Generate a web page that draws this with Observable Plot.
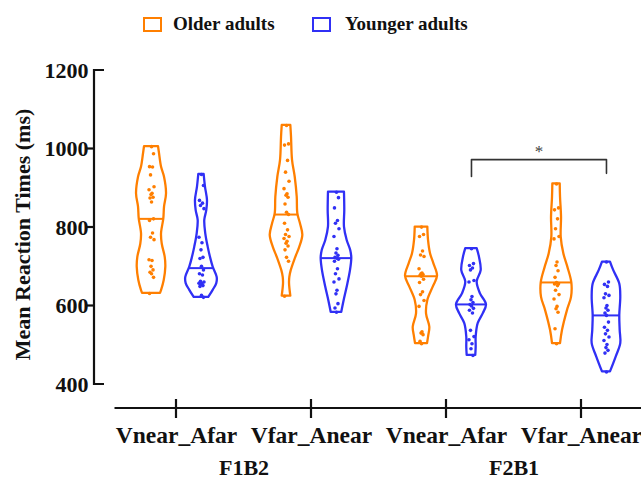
<!DOCTYPE html>
<html>
<head>
<meta charset="utf-8">
<script src="https://cdn.jsdelivr.net/npm/d3@7"></script>
<script src="https://cdn.jsdelivr.net/npm/@observablehq/plot@0.6"></script>
<style>
  body { margin: 0; background: #fff; }
  #wrap { position: relative; width: 641px; height: 480px; font-family: "Liberation Serif", "Times New Roman", serif; }
  #legend { position: relative; height: 45px; }
  .box { position: absolute; top: 17px; width: 19px; height: 15px; box-sizing: border-box; border: 2.5px solid; }
  .lab { position: absolute; top: 14px; font-weight: bold; font-size: 19px; line-height: 1; color: #111; white-space: nowrap; }
  svg { display: block; }
</style>
</head>
<body>
<div id="wrap">
  <div id="legend"></div>
  <div id="chart"></div>
</div>
<script>
// ---------- data ----------
const conditions = ["Vnear_Afar", "Vfar_Anear", "Vnear_Afar", "Vfar_Anear"];
const blocks = ["F1B2", "F2B1"];
const blockCenters = [0.5, 2.5];
const groups = ["Older adults", "Younger adults"];
const groupColors = ["#ff7f00", "#3030f5"];
const yTicks = [400, 600, 800, 1000, 1200];

// individual mean RTs (ms)
const older_F1B2_VnearAfar = [1006, 988, 955, 954, 934, 904, 896, 887, 884, 877, 875, 865, 822, 818, 786, 775, 769, 718, 716, 701, 692, 686, 682, 673, 632];
const younger_F1B2_VnearAfar = [935, 907, 869, 862, 856, 848, 775, 761, 743, 724, 721, 701, 692, 682, 679, 663, 661, 658, 657, 655, 652, 650, 627, 622];
const older_F1B2_VfarAnear = [1060, 1013, 1010, 971, 941, 918, 899, 886, 882, 877, 860, 839, 833, 811, 794, 782, 777, 772, 765, 760, 753, 743, 724, 714, 625];
const younger_F1B2_VfarAnear = [890, 876, 850, 818, 811, 797, 777, 746, 735, 729, 724, 722, 719, 714, 695, 682, 669, 661, 640, 631, 606, 595, 584];
const older_F2B1_VnearAfar = [801, 782, 777, 740, 730, 726, 695, 684, 682, 680, 678, 676, 668, 660, 636, 629, 614, 599, 534, 531, 527, 510, 504];
const younger_F2B1_VnearAfar = [746, 708, 703, 697, 692, 665, 661, 624, 616, 609, 604, 600, 594, 589, 582, 538, 522, 514, 504, 491, 474];
const older_F2B1_VfarAnear = [911, 850, 845, 822, 797, 777, 771, 712, 703, 690, 673, 660, 657, 656, 652, 640, 629, 618, 599, 593, 584, 542, 504];
const younger_F2B1_VfarAnear = [712, 661, 655, 650, 631, 627, 621, 601, 595, 589, 582, 576, 559, 546, 538, 529, 521, 512, 502, 494, 487, 480, 432];

// violin outlines: [value (ms), relative density (half-width)]
const older_F1B2_VnearAfar_shape = [[1006,7],[988,8],[954,10],[928,13],[886,15],[852,13],[822,12.3],[784,10],[758,10.7],[724,13.7],[699,14.3],[665,12.7],[639,10],[632,9]];
const younger_F1B2_VnearAfar_shape = [[935,2.7],[903,4],[869,6],[843,5.3],[818,3.3],[784,4.3],[750,6.7],[724,9],[699,11.7],[673,15.7],[657,15.3],[640,11.7],[622,7.3]];
const older_F1B2_VfarAnear_shape = [[1060,4.3],[1030,5],[971,6],[928,8.7],[877,10.7],[835,11.3],[809,14],[780,16.3],[750,13.3],[720,8.7],[690,4.7],[673,3.3],[657,3],[625,4.3]];
const younger_F1B2_VfarAnear_shape = [[890,8],[843,8.3],[801,8],[767,10.7],[741,14.3],[722,15.3],[690,14],[648,10.7],[614,7.7],[584,5.3]];
const older_F2B1_VnearAfar_shape = [[801,6.3],[767,7],[733,9],[708,12.3],[676,16],[648,11.7],[614,6.3],[580,5],[546,8.3],[525,7.3],[504,6]];
const younger_F2B1_VnearAfar_shape = [[746,5.7],[724,8],[690,9.7],[661,5.7],[631,9],[603,15],[580,11.7],[555,6.7],[521,4.7],[495,4.7],[474,4.3]];
const older_F2B1_VfarAnear_shape = [[911,3.7],[877,4],[826,5],[775,4.7],[733,7.3],[699,11.3],[659,15.3],[622,15],[589,11],[538,6],[504,4]];
const younger_F2B1_VfarAnear_shape = [[712,4],[690,7.3],[656,13.3],[622,14.3],[576,13.3],[538,13.7],[504,14.3],[470,9.7],[432,4]];

// significance comparison (Younger adults, F2B1: Vnear_Afar vs Vfar_Anear)
const sigFrom = [2, 1];   // [condition, group]
const sigTo = [3, 1];
const sigLevels = [930, 973, 973, 938];
const sigLabel = "*";
const sigLabelY = 993;

// ---------- layout helpers ----------
const groupOffset = [-0.185, 0.185];
const widthScale = 1 / 135;
const jitterPx = [0, 2, -2, 1, -1, 2.5, -2.5, 0.5, -0.5, 1.5, -1.5];

const violins = [
  [0, 0, older_F1B2_VnearAfar, older_F1B2_VnearAfar_shape],
  [0, 1, younger_F1B2_VnearAfar, younger_F1B2_VnearAfar_shape],
  [1, 0, older_F1B2_VfarAnear, older_F1B2_VfarAnear_shape],
  [1, 1, younger_F1B2_VfarAnear, younger_F1B2_VfarAnear_shape],
  [2, 0, older_F2B1_VnearAfar, older_F2B1_VnearAfar_shape],
  [2, 1, younger_F2B1_VnearAfar, younger_F2B1_VnearAfar_shape],
  [3, 0, older_F2B1_VfarAnear, older_F2B1_VfarAnear_shape],
  [3, 1, younger_F2B1_VfarAnear, younger_F2B1_VfarAnear_shape]
].map(([c, g, pts, shape]) => ({c, g, pts, shape, cx: c + groupOffset[g], color: groupColors[g]}));

function widthAt(shape, v) {
  for (let i = 0; i < shape.length - 1; i++) {
    const [v0, w0] = shape[i], [v1, w1] = shape[i + 1];
    if ((v <= v0 && v >= v1)) return w0 + (w1 - w0) * (v - v0) / (v1 - v0);
  }
  return shape[shape.length - 1][1];
}

// ---------- legend ----------
const legend = document.getElementById("legend");
const legendPos = [[143, 173], [312, 345]];
groups.forEach((name, i) => {
  const b = document.createElement("div");
  b.className = "box"; b.style.left = legendPos[i][0] + "px"; b.style.borderColor = groupColors[i];
  const t = document.createElement("div");
  t.className = "lab"; t.style.left = legendPos[i][1] + "px"; t.textContent = name;
  legend.append(b, t);
});

// ---------- axes (drawn with the chart's scales) ----------
function axes(index, scales, values, dims) {
  const {x, y} = scales;
  const {width, height, marginLeft, marginBottom} = dims;
  const g = d3.create("svg:g").attr("fill", "none").attr("stroke", "#111").attr("stroke-width", 2.2);
  const x0 = marginLeft;
  g.append("path").attr("d", `M${x0 + 10},${y(yTicks[yTicks.length - 1])}H${x0}V${y(yTicks[0])}H${x0 + 10}`);
  yTicks.slice(1, -1).forEach(t => g.append("line").attr("x1", x0 - 7).attr("x2", x0).attr("y1", y(t)).attr("y2", y(t)));
  const yb = height - marginBottom;
  g.append("line").attr("x1", x(-0.5) + 6).attr("x2", width).attr("y1", yb).attr("y2", yb);
  conditions.forEach((_, i) => g.append("line").attr("x1", x(i)).attr("x2", x(i)).attr("y1", yb - 9).attr("y2", yb + 10));
  return g.node();
}

const font = '"Liberation Serif", "Times New Roman", serif';
const marks = [axes];

violins.forEach(v => {
  const rows = v.shape.map(([val, w]) => ({val, w}));
  marks.push(Plot.areaX(rows, {
    y: "val", x1: d => v.cx - d.w * widthScale, x2: d => v.cx + d.w * widthScale,
    fill: "none", stroke: v.color, strokeWidth: 2.3, curve: "catmull-rom", strokeLinejoin: "round"
  }));
  const med = d3.median(v.pts);
  const mw = widthAt(v.shape, med) * widthScale;
  marks.push(Plot.ruleY([med], {y: d => d, x1: v.cx - mw, x2: v.cx + mw, stroke: v.color, strokeWidth: 2}));
  marks.push(Plot.dot(v.pts, {
    x: (d, i) => v.cx + jitterPx[i % jitterPx.length] * widthScale, y: d => d,
    r: 1.8, fill: v.color, stroke: "none"
  }));
});

// significance bracket
const sx1 = sigFrom[0] + groupOffset[sigFrom[1]], sx2 = sigTo[0] + groupOffset[sigTo[1]];
const bracket = [{x: sx1, y: sigLevels[0]}, {x: sx1, y: sigLevels[1]}, {x: sx2, y: sigLevels[2]}, {x: sx2, y: sigLevels[3]}];
marks.push(Plot.line(bracket, {x: "x", y: "y", stroke: "#333", strokeWidth: 1.6}));
marks.push(Plot.text([sigLabel], {x: (sx1 + sx2) / 2, y: sigLabelY, text: d => d, fontSize: 17, fill: "#444", fontFamily: font}));

// y tick labels
marks.push(Plot.text(yTicks, {y: d => d, frameAnchor: "left", dx: -6, textAnchor: "end", text: d => String(d),
  fontSize: 22, fontWeight: "bold", fill: "#111", fontFamily: font}));
// y title
marks.push(Plot.text(["Mean Reaction Times (ms)"], {frameAnchor: "left", textAnchor: "middle", rotate: -90, dx: -72, dy: -5, text: d => d,
  fontSize: 22, fontWeight: "bold", fill: "#111", fontFamily: font}));
// x tick labels
marks.push(Plot.text(conditions, {x: (d, i) => i, frameAnchor: "bottom", dy: 34, lineAnchor: "bottom", text: d => d,
  fontSize: 23.5, fontWeight: "bold", fill: "#111", fontFamily: font}));
// block labels
marks.push(Plot.text(blocks, {x: (d, i) => blockCenters[i], frameAnchor: "bottom", dy: 66, lineAnchor: "bottom", text: d => d,
  fontSize: 22, fontWeight: "bold", fill: "#111", fontFamily: font}));

const chart = Plot.plot({
  width: 641, height: 435,
  marginTop: 25, marginBottom: 72, marginLeft: 94, marginRight: 0,
  x: {domain: [-0.5, 3.5], range: [108.5, 648.5], axis: null},
  y: {domain: [400, 1200], range: [339, 25], axis: null},
  style: {fontFamily: font, background: "white", overflow: "visible"},
  marks
});
document.getElementById("chart").append(chart);
</script>
</body>
</html>
